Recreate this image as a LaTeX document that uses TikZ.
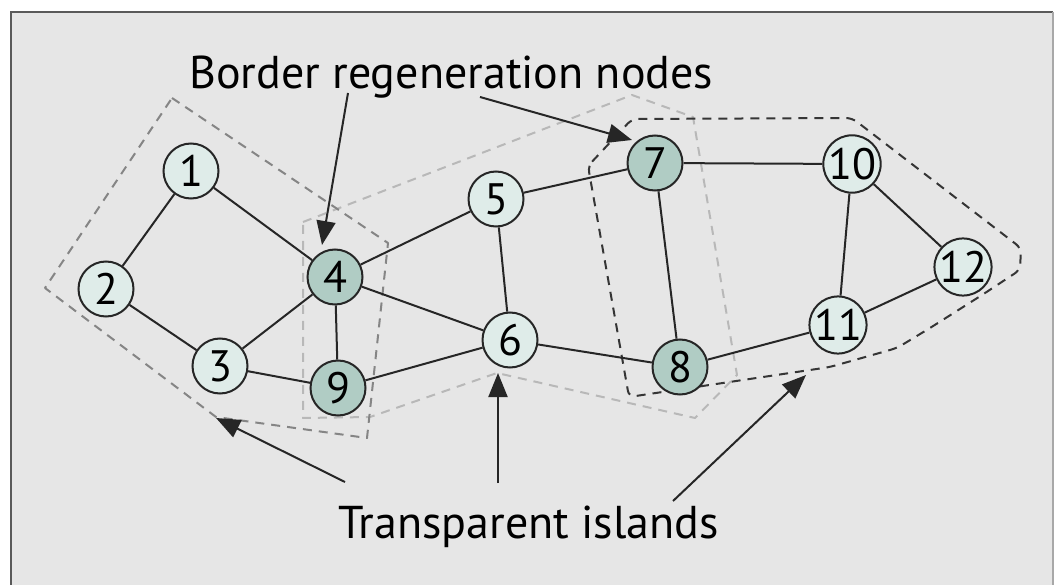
\documentclass[tikz,border=0pt]{standalone}
\usepackage{fontspec}
\setmainfont{PT Sans}
\usetikzlibrary{arrows.meta}
\definecolor{panel}{HTML}{E6E6E6}
\definecolor{framedark}{HTML}{5A5A5A}
\definecolor{frameright}{HTML}{A8A8A8}
\definecolor{plainfill}{HTML}{DFECE9}
\definecolor{regenfill}{HTML}{B0CCC4}
\definecolor{linkcol}{HTML}{262626}
\definecolor{islandA}{HTML}{858585}
\definecolor{islandB}{HTML}{B8B8B8}
\definecolor{islandC}{HTML}{353535}
\begin{document}
\begin{tikzpicture}[x=1pt,y=-1pt,
  netnode/.style={circle, draw=linkcol, line width=2pt, minimum size=55pt,
    inner sep=0pt, font=\fontsize{44}{44}\selectfont},
  plain/.style={netnode, fill=plainfill},
  regen/.style={netnode, fill=regenfill},
  link/.style={draw=linkcol, line width=2pt},
  island/.style={line width=2pt, dash pattern=on 9pt off 7pt, line join=round},
  pointer/.style={draw=linkcol, line width=2pt, -{Triangle[length=24pt,width=19pt]}},
  caption/.style={font=\fontsize{46}{46}\selectfont, inner sep=0pt, anchor=base west}
]
\useasboundingbox (0,0) rectangle (1054,585);

% panel
\fill[panel] (11,12) rectangle (1053,590);
\draw[framedark, line width=2.5pt] (11,590) -- (11,12) -- (1053,12);
\draw[frameright, line width=2pt] (1053,12) -- (1053,590);

% transparent islands
\draw[island, islandB] (303,222) -- (632,95) -- (693,117) -- (737,375) -- (695,418)
  -- (497,373) -- (370,417) -- (303,418) -- cycle;
\draw[island, islandA] (172,98) -- (388,243) -- (367,438) -- (216,417) -- (45,288) -- cycle;
\draw[island, islandC, rounded corners=6pt] (588,166) -- (632,119) -- (852,118) -- (1021,248)
  -- (1020,270) -- (982,295) -- (930,328) -- (897,348) -- (830,367) -- (629,397) -- cycle;

% network nodes
\node[plain] (n1)  at (191,171) {1};
\node[plain] (n2)  at (106,289) {2};
\node[plain] (n3)  at (220,366) {3};
\node[regen] (n4)  at (335,277) {4};
\node[plain] (n5)  at (496,199) {5};
\node[plain] (n6)  at (510,340) {6};
\node[regen] (n7)  at (655,163) {7};
\node[regen] (n8)  at (680,367) {8};
\node[regen] (n9)  at (338,388) {9};
\node[plain] (n10) at (852,164) {10};
\node[plain] (n11) at (838,325) {11};
\node[plain] (n12) at (963,267) {12};

% links
\foreach \a/\b in {1/2,1/4,2/3,3/4,3/9,4/9,4/5,4/6,5/6,9/6,6/8,5/7,7/8,7/10,8/11,10/11,10/12,11/12}
  \draw[link] (n\a) -- (n\b);

% captions
\node[caption] (title) at (189,89) {Border regeneration nodes};
\node[caption] (islands) at (338,538) {Transparent islands};

% pointers
\coordinate (t4) at (348,93);
\coordinate (t7) at (480,97);
\coordinate (h4) at (322,245);
\coordinate (h7) at (632,140);
\coordinate (sA) at (345,482);
\coordinate (sB) at (498,483);
\coordinate (sC) at (673,501);
\coordinate (hA) at (216,418);
\coordinate (hB) at (498,373);
\coordinate (hC) at (806,375);
\draw[pointer] (t4) -- (h4);
\draw[pointer] (t7) -- (h7);
\draw[pointer] (sA) -- (hA);
\draw[pointer] (sB) -- (hB);
\draw[pointer] (sC) -- (hC);
\end{tikzpicture}
\end{document}
